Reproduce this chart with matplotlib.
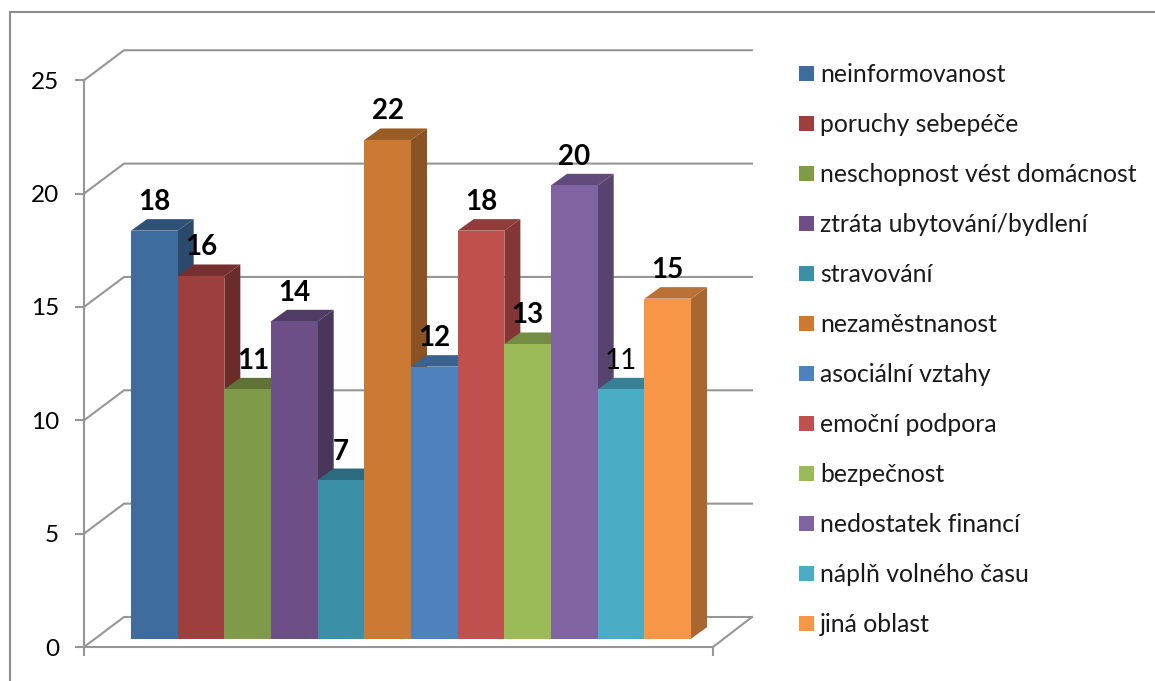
import matplotlib.pyplot as plt
from matplotlib.patches import Polygon, Rectangle
from matplotlib.colors import to_rgb

plt.rcParams['font.family'] = ['Lato', 'DejaVu Sans']

categories = ['neinformovanost', 'poruchy sebepéče', 'neschopnost vést domácnost',
              'ztráta ubytování/bydlení', 'stravování', 'nezaměstnanost',
              'asociální vztahy', 'emoční podpora', 'bezpečnost',
              'nedostatek financí', 'náplň volného času', 'jiná oblast']
values = [18, 16, 11, 14, 7, 22, 12, 18, 13, 20, 11, 15]
colors = ['#3F6C9E', '#9C3F3D', '#7F9A48', '#6B4F86', '#3B8FA6', '#CC7A33',
          '#4F81BD', '#C0504D', '#9BBB59', '#8064A2', '#4BACC6', '#F79646']
y_ticks = [0, 5, 10, 15, 20, 25]

W, H = 1155, 681
bar_w = 46.67     # px per category
unit = 22.67      # px per value
x0 = 131          # left of first bar
y0 = 638.7        # bar base
grey = '#969696'

fig = plt.figure(figsize=[W / 100, H / 100], dpi=100)
ax = fig.add_axes([0, 0, 1, 1])
ax.set_xlim(-x0 / bar_w, (W - x0) / bar_w)
ax.set_ylim(-(H - y0) / unit, y0 / unit)
ax.axis('off')


def xp(px):
    return (px - x0) / bar_w


def yp(px):
    return (y0 - px) / unit


def shade(col, f):
    return tuple(c * f for c in to_rgb(col))


# outer frame, open on the right
ax.plot([xp(W), xp(10), xp(10)], [yp(12), yp(12), yp(H)], color='#8C8C8C', lw=1.5,
        solid_joinstyle='miter')

# walls
front_x, back_x, right_x = 84, 124, 752
front_y = 647
for t in y_ticks:
    y_front = yp(front_y) + t
    y_back = y_front + 30 / unit
    ax.plot([xp(front_x), xp(back_x), xp(right_x)], [y_front, y_back, y_back],
            color=grey, lw=1.5, zorder=1)
    ax.plot([xp(76), xp(front_x)], [y_front, y_front], color=grey, lw=1.5, zorder=1)
    ax.text(xp(59), y_front, str(t), ha='right', va='center_baseline', fontsize=17.5,
            color='black')
ax.plot([xp(front_x), xp(front_x)], [yp(front_y) + y_ticks[-1], yp(655)], color=grey,
        lw=1.5, zorder=1)
ax.plot([xp(front_x), xp(713), xp(right_x)],
        [yp(front_y), yp(front_y), yp(front_y) + 30 / unit], color=grey, lw=1.5, zorder=1)
ax.plot([xp(713), xp(713)], [yp(front_y), yp(655)], color=grey, lw=1.5, zorder=1)

# bars with side and top faces
dx = 16 / bar_w
dy = 11.5 / unit
for i, (v, col) in enumerate(zip(values, colors)):
    l, r = i, i + 1
    ax.add_patch(Polygon([(r, 0), (r + dx, dy), (r + dx, v + dy), (r, v)],
                         fc=shade(col, 0.68), ec='none', zorder=2 + i))
    ax.add_patch(Polygon([(l, v), (l + dx, v + dy), (r + dx, v + dy), (r, v)],
                         fc=shade(col, 0.75), ec='none', zorder=2 + i))
    ax.add_patch(Rectangle((l, 0), 1, v, fc=col, ec='none', zorder=2 + i))

# data labels
for i, v in enumerate(values):
    off = 6 / bar_w if i == 2 else 0
    weight = 'normal' if i == 10 else 'bold'
    ax.text(i + 0.5 + off, v + 31 / unit, str(v), ha='center', va='center_baseline',
            fontsize=20, fontweight=weight, color='black', zorder=30)

# legend
for i, (name, col) in enumerate(zip(categories, colors)):
    yc = 73 + i * 50
    ax.add_patch(Rectangle((xp(799), yp(yc + 7.5)), 15 / bar_w, 15 / unit, fc=col, ec='none'))
    ax.text(xp(820), yp(yc - 0.5), name, ha='left', va='center_baseline', fontsize=17.8,
            color='#1a1a1a')

plt.savefig('out.png', dpi=100)
